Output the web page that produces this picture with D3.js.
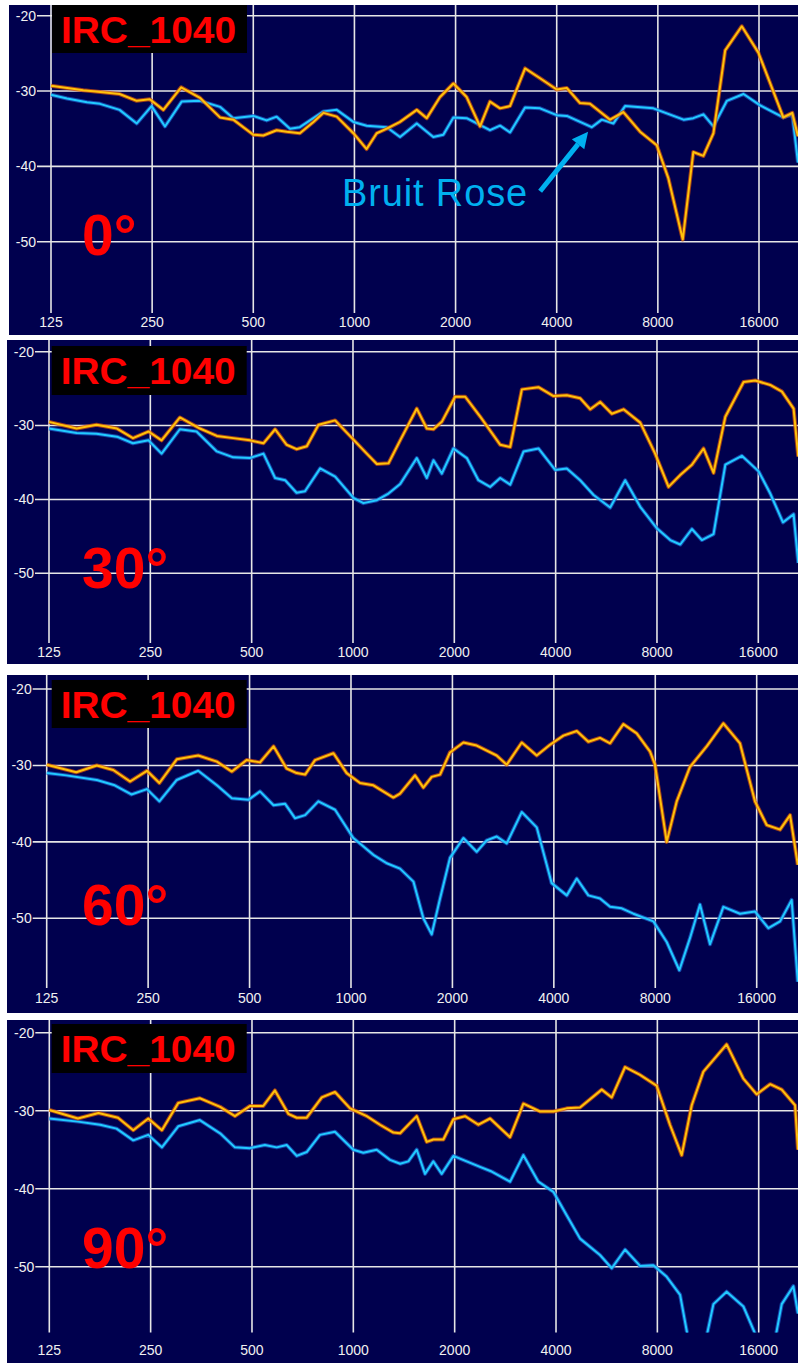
<!DOCTYPE html>
<html>
<head>
<meta charset="utf-8">
<script src="https://d3js.org/d3.v7.min.js"></script>
<style>
	html, body { margin: 0; padding: 0; background: #ffffff; }
	svg { display: block; }
</style>
</head>
<body>
<div id="chart"></div>
<script>
//////////////////////////////////////////////////
// data : [frequency Hz, level dB]
//////////////////////////////////////////////////
var freqTicks = [125, 250, 500, 1000, 2000, 4000, 8000, 16000];
var dbTicks = [-20, -30, -40, -50];
var titleText = 'IRC_1040';
var angleLabels = ['0°', '30°', '60°', '90°'];
var noteText = 'Bruit Rose';

var orange0 = [[125,-29.3],[156,-29.9],[200,-30.4],[225,-31.3],[246,-31.1],[270,-32.5],[305,-29.5],[347,-30.9],[398,-33.5],[436,-33.8],[500,-35.8],[536,-35.9],[587,-35.2],[629,-35.4],[688,-35.6],[755,-34.1],[809,-32.9],[886,-33.4],[993,-35.6],[1087,-37.7],[1165,-35.6],[1248,-35.0],[1367,-34.1],[1533,-32.5],[1642,-33.6],[1798,-30.8],[1970,-29.0],[2158,-30.8],[2365,-34.7],[2532,-31.4],[2713,-32.3],[2905,-32.0],[3220,-27.0],[3568,-28.3],[4000,-29.8],[4287,-29.6],[4693,-31.6],[5027,-31.7],[5765,-33.8],[6316,-32.8],[7083,-35.4],[7940,-37.2],[8600,-41.6],[9490,-49.7],[10200,-38.1],[10930,-38.6],[11710,-35.6],[12690,-24.6],[14220,-21.4],[15930,-24.9],[18900,-33.5],[20100,-32.9],[20900,-36.0]];
var blue0 = [[125,-30.5],[139.5,-31.0],[160,-31.5],[175,-31.7],[200,-32.5],[225,-34.3],[249,-32.0],[273,-34.7],[306,-31.4],[347,-31.3],[398,-32.1],[436,-33.6],[500,-33.3],[548,-33.9],[587,-33.4],[643,-35.0],[688,-34.8],[809,-32.7],[886,-32.5],[993,-34.1],[1087,-34.6],[1248,-34.8],[1367,-36.1],[1533,-34.3],[1717,-36.1],[1839,-35.8],[1970,-33.5],[2158,-33.6],[2532,-35.2],[2713,-34.6],[2905,-35.5],[3220,-32.2],[3568,-32.3],[4000,-33.2],[4287,-33.3],[5084,-34.8],[5447,-33.8],[5900,-34.3],[6390,-32.0],[7760,-32.3],[9540,-33.8],[10200,-33.6],[10930,-33.1],[11710,-34.7],[12840,-31.3],[14390,-30.4],[16130,-31.9],[18900,-33.5],[20100,-33.1],[20900,-39.5]];

var orange30 = [[125,-29.5],[151,-30.4],[173,-29.9],[199,-30.4],[222,-31.7],[247,-30.8],[270,-32.0],[306,-28.9],[351,-30.4],[394,-31.4],[441,-31.7],[494,-32.0],[542,-32.4],[587,-30.5],[635,-32.6],[680,-33.2],[729,-32.8],[790,-29.9],[885,-29.3],[1003,-31.9],[1099,-33.8],[1177,-35.2],[1275,-35.1],[1381,-32.0],[1547,-27.7],[1657,-30.4],[1734,-30.5],[1836,-29.5],[2011,-26.1],[2155,-26.1],[2388,-28.8],[2737,-32.6],[2932,-32.9],[3175,-25.1],[3557,-24.8],[3942,-26.0],[4317,-25.9],[4731,-26.3],[5068,-27.8],[5425,-26.8],[5877,-28.4],[6365,-27.8],[7135,-29.6],[7900,-33.8],[8660,-38.3],[9380,-36.7],[10160,-35.3],[11000,-33.1],[11780,-36.4],[12770,-28.8],[14470,-24.1],[15670,-23.9],[17360,-24.5],[18810,-25.4],[20370,-27.7],[21030,-34.2]];
var blue30 = [[125,-30.4],[151,-31.0],[173,-31.1],[199,-31.5],[222,-32.4],[247,-32.0],[270,-33.8],[306,-30.5],[343,-30.8],[394,-33.5],[441,-34.3],[494,-34.4],[542,-33.8],[587,-37.1],[629,-37.4],[680,-39.1],[720,-38.9],[799,-35.8],[885,-36.9],[1003,-39.8],[1074,-40.5],[1177,-40.1],[1275,-39.2],[1381,-37.9],[1547,-34.4],[1657,-37.1],[1734,-34.7],[1836,-36.5],[1988,-33.1],[2179,-34.4],[2359,-37.4],[2555,-38.3],[2737,-37.1],[2932,-38.0],[3213,-33.5],[3557,-33.1],[3987,-36.0],[4317,-35.8],[4731,-37.4],[5185,-39.4],[5810,-41.1],[6437,-37.4],[7135,-41.0],[7990,-43.9],[8760,-45.5],[9380,-46.1],[10160,-44.0],[10880,-45.5],[11780,-44.7],[12770,-35.3],[14300,-34.1],[16040,-36.2],[17360,-39.2],[18940,-43.1],[20370,-42.0],[21030,-48.6]];

var orange60 = [[125,-29.9],[153,-30.9],[176,-30.0],[197,-30.6],[221,-32.1],[248,-30.7],[270,-32.3],[304,-29.2],[352,-28.7],[400,-29.5],[443,-30.8],[490,-29.3],[537,-29.6],[589,-27.5],[644,-30.4],[690,-31.0],[731,-31.2],[782,-29.3],[887,-28.4],[971,-31.0],[1064,-32.3],[1165,-32.6],[1336,-34.2],[1398,-33.7],[1549,-31.3],[1640,-32.9],[1736,-31.5],[1838,-31.2],[1967,-28.3],[2156,-27.0],[2361,-27.4],[2706,-28.7],[2899,-29.9],[3212,-27.0],[3558,-28.7],[3896,-27.3],[4270,-26.1],[4678,-25.5],[5064,-26.9],[5485,-26.4],[5875,-27.1],[6432,-24.6],[7047,-25.8],[7720,-28.2],[7985,-29.9],[8650,-40.0],[9265,-34.7],[10140,-30.2],[11370,-27.5],[12740,-24.5],[14270,-27.1],[15810,-34.7],[17130,-37.8],[18770,-38.4],[20100,-36.5],[21190,-43.0]];
var blue60 = [[125,-31.0],[143,-31.3],[176,-31.9],[199,-32.6],[223,-33.8],[248,-33.1],[270,-34.7],[304,-31.9],[352,-30.7],[400,-32.6],[443,-34.3],[496,-34.5],[537,-33.4],[589,-35.2],[637,-35.0],[682,-36.9],[731,-36.5],[800,-34.7],[897,-35.8],[1016,-39.5],[1089,-40.6],[1165,-41.7],[1277,-42.8],[1398,-43.5],[1532,-45.2],[1640,-50.0],[1736,-52.1],[1838,-47.4],[1967,-42.1],[2156,-39.5],[2361,-41.3],[2528,-39.8],[2706,-39.3],[2899,-40.2],[3212,-36.1],[3558,-38.1],[3941,-45.4],[4370,-47.0],[4678,-44.8],[5064,-47.0],[5485,-47.4],[5875,-48.5],[6360,-48.7],[6888,-49.4],[7898,-50.4],[8650,-53.1],[9430,-56.8],[10140,-52.6],[10860,-48.2],[11630,-53.4],[12740,-48.5],[14270,-49.4],[15810,-49.1],[17330,-51.3],[18770,-50.4],[20320,-47.6],[21190,-58.3]];

var orange90 = [[125,-29.9],[152,-31.0],[175,-30.3],[200,-30.9],[222,-32.5],[246,-31.0],[270,-32.5],[302,-29.0],[350,-28.4],[402,-29.5],[445,-30.7],[493,-29.4],[540,-29.4],[585,-27.4],[641,-30.4],[679,-30.9],[727,-30.9],[806,-28.3],[882,-27.6],[978,-29.7],[1096,-30.7],[1200,-31.8],[1315,-32.8],[1377,-32.9],[1543,-30.7],[1652,-34.0],[1728,-33.7],[1851,-33.7],[1982,-31.1],[2147,-30.7],[2353,-31.8],[2548,-31.0],[2921,-33.4],[3200,-29.1],[3586,-30.1],[3928,-30.1],[4302,-29.7],[4714,-29.6],[5469,-27.3],[5856,-28.3],[6415,-24.4],[7107,-25.4],[7962,-26.8],[8720,-31.8],[9450,-35.7],[10120,-29.3],[10960,-25.0],[12850,-21.5],[14410,-25.9],[15780,-27.9],[17300,-26.6],[18730,-27.3],[20520,-29.3],[20930,-35.0]];
var blue90 = [[125,-31.0],[152,-31.4],[177,-31.8],[198,-32.3],[222,-33.8],[246,-33.1],[270,-34.7],[302,-32.0],[350,-31.2],[402,-32.9],[445,-34.7],[493,-34.8],[546,-34.4],[592,-34.7],[634,-34.4],[679,-35.8],[727,-35.3],[796,-33.1],[882,-32.7],[1000,-35.0],[1071,-35.4],[1173,-35.0],[1285,-36.3],[1377,-36.8],[1457,-36.5],[1543,-35.0],[1633,-38.1],[1728,-36.5],[1830,-38.1],[1982,-35.8],[2171,-36.5],[2378,-37.2],[2576,-37.8],[2921,-39.1],[3200,-35.7],[3545,-39.1],[3928,-40.4],[4302,-43.4],[4714,-46.4],[5404,-48.5],[5856,-50.2],[6415,-47.8],[7107,-49.9],[7784,-49.8],[8530,-51.3],[9345,-53.6],[10250,-63.0],[10700,-63.0],[11740,-54.8],[12850,-53.2],[14410,-55.1],[16500,-61.0],[17600,-61.0],[18730,-54.8],[20280,-52.5],[20930,-56.0]];

// note arrow in panel 0 : [freq, dB]
var noteTextAt = [919, -45.3];
var noteTail = [3570, -43.3];
var noteTip = [4960, -35.4];

//////////////////////////////////////////////////
// panel layout (screen grabs, each slightly offset)
//////////////////////////////////////////////////
var panels = [
	{bg: [9, 5, 789, 330], x125: 51, x16k: 759, y20: 15.7, y50: 241.7, gridBottom: 313, labelY: 322, box: [52, 5, 195, 48], angleY: 255, orange: orange0, blue: blue0, angle: angleLabels[0], note: true},
	{bg: [7, 340, 791, 324], x125: 49, x16k: 758.3, y20: 351.7, y50: 573.3, gridBottom: 643, labelY: 652, box: [51.7, 346, 195, 49], angleY: 588, orange: orange30, blue: blue30, angle: angleLabels[1]},
	{bg: [7, 675, 791, 338], x125: 46.7, x16k: 756.7, y20: 689, y50: 918.3, gridBottom: 988, labelY: 998, box: [51.7, 680, 195, 48], angleY: 925, orange: orange60, blue: blue60, angle: angleLabels[2]},
	{bg: [7, 1020, 791, 343], x125: 49.3, x16k: 758.7, y20: 1032.7, y50: 1266.7, gridBottom: 1332.5, labelY: 1350, box: [51.7, 1024, 195, 49], angleY: 1268, orange: orange90, blue: blue90, angle: angleLabels[3]}
];

var W = 798, H = 1363;

var svg = d3.select('#chart')
	.append('svg')
	.attr('width', W)
	.attr('height', H);

svg.append('rect')
	.attr('width', W)
	.attr('height', H)
	.attr('fill', '#ffffff');

panels.forEach(function(p, i) {
	var g = svg.append('g');

	var x = d3.scaleLog().base(2).domain([125, 16000]).range([p.x125, p.x16k]);
	var y = d3.scaleLinear().domain([-20, -50]).range([p.y20, p.y50]);

	// background
	g.append('rect')
		.attr('x', p.bg[0]).attr('y', p.bg[1])
		.attr('width', p.bg[2]).attr('height', p.bg[3])
		.attr('fill', '#00004e');

	// vertical grid + freq labels
	g.selectAll('line.vgrid')
		.data(freqTicks)
		.enter().append('line')
		.attr('class', 'vgrid')
		.attr('x1', function(d) { return x(d); })
		.attr('x2', function(d) { return x(d); })
		.attr('y1', p.bg[1])
		.attr('y2', p.gridBottom)
		.attr('stroke', '#e6e6e6')
		.attr('stroke-width', 1.6);

	g.selectAll('text.flab')
		.data(freqTicks)
		.enter().append('text')
		.attr('class', 'flab')
		.attr('x', function(d) { return x(d); })
		.attr('y', p.labelY)
		.attr('dy', '0.35em')
		.attr('text-anchor', 'middle')
		.attr('font-family', 'Liberation Sans, Arial, sans-serif')
		.attr('font-size', 14)
		.attr('fill', '#f0f0f0')
		.text(function(d) { return d; });

	// horizontal grid + dB labels
	g.selectAll('line.hgrid')
		.data(dbTicks)
		.enter().append('line')
		.attr('class', 'hgrid')
		.attr('x1', p.x125 - 14)
		.attr('x2', W)
		.attr('y1', function(d) { return y(d); })
		.attr('y2', function(d) { return y(d); })
		.attr('stroke', '#e6e6e6')
		.attr('stroke-width', 1.6);

	g.selectAll('text.dblab')
		.data(dbTicks)
		.enter().append('text')
		.attr('class', 'dblab')
		.attr('x', p.x125 - 15)
		.attr('y', function(d) { return y(d); })
		.attr('dy', '0.35em')
		.attr('text-anchor', 'end')
		.attr('font-family', 'Liberation Sans, Arial, sans-serif')
		.attr('font-size', 14)
		.attr('fill', '#f0f0f0')
		.text(function(d) { return d; });

	// clip for the curves
	var clipId = 'clip' + i;
	svg.append('clipPath').attr('id', clipId)
		.append('rect')
		.attr('x', p.bg[0]).attr('y', p.bg[1])
		.attr('width', p.bg[2]).attr('height', p.gridBottom - p.bg[1]);

	var line = d3.line()
		.x(function(d) { return x(d[0]); })
		.y(function(d) { return y(d[1]); });

	var curves = g.append('g').attr('clip-path', 'url(#' + clipId + ')');

	[
		{data: p.blue, halo: '#1a5cc8', core: '#22cbff'},
		{data: p.orange, halo: '#d0520a', core: '#ffc20a'}
	].forEach(function(s) {
		curves.append('path')
			.datum(s.data)
			.attr('d', line)
			.attr('fill', 'none')
			.attr('stroke', s.halo)
			.attr('stroke-opacity', 0.75)
			.attr('stroke-width', 4)
			.attr('stroke-linejoin', 'round');
		curves.append('path')
			.datum(s.data)
			.attr('d', line)
			.attr('fill', 'none')
			.attr('stroke', s.core)
			.attr('stroke-width', 2)
			.attr('stroke-linejoin', 'round');
	});

	// title box
	g.append('rect')
		.attr('x', p.box[0]).attr('y', p.box[1])
		.attr('width', p.box[2]).attr('height', p.box[3])
		.attr('fill', '#000000');

	g.append('text')
		.attr('x', p.box[0] + 9)
		.attr('y', p.box[1] + 38)
		.attr('font-family', 'Liberation Sans, Arial, sans-serif')
		.attr('font-weight', 'bold')
		.attr('font-size', 37)
		.attr('textLength', 175)
		.attr('lengthAdjust', 'spacingAndGlyphs')
		.attr('fill', '#ff0000')
		.text(titleText);

	// angle label
	g.append('text')
		.attr('x', 82)
		.attr('y', p.angleY)
		.attr('font-family', 'Liberation Sans, Arial, sans-serif')
		.attr('font-weight', 'bold')
		.attr('font-size', 57)
		.attr('fill', '#ff0000')
		.text(p.angle);

	//////////////////////////////////////////////////
	// pink noise note
	//////////////////////////////////////////////////
	if(p.note) {
		var noteColor = '#00b0f0';
		var tx = x(noteTip[0]), ty = y(noteTip[1]);
		var sx = x(noteTail[0]), sy = y(noteTail[1]);
		var dx = tx - sx, dy = ty - sy, len = Math.sqrt(dx * dx + dy * dy);
		var ux = dx / len, uy = dy / len;
		var headLen = 16, headHalf = 8;
		var bx = tx - ux * headLen, by = ty - uy * headLen;

		g.append('line')
			.attr('x1', sx).attr('y1', sy)
			.attr('x2', bx).attr('y2', by)
			.attr('stroke', noteColor)
			.attr('stroke-width', 5);

		g.append('polygon')
			.attr('points', [
				[tx, ty],
				[bx - uy * headHalf, by + ux * headHalf],
				[bx + uy * headHalf, by - ux * headHalf]
			].map(function(pt) { return pt.join(','); }).join(' '))
			.attr('fill', noteColor);

		g.append('text')
			.attr('x', x(noteTextAt[0]))
			.attr('y', y(noteTextAt[1]))
			.attr('font-family', 'Liberation Sans, Arial, sans-serif')
			.attr('font-size', 38)
			.attr('textLength', 185)
			.attr('fill', noteColor)
			.text(noteText);
	}
});
</script>
</body>
</html>
